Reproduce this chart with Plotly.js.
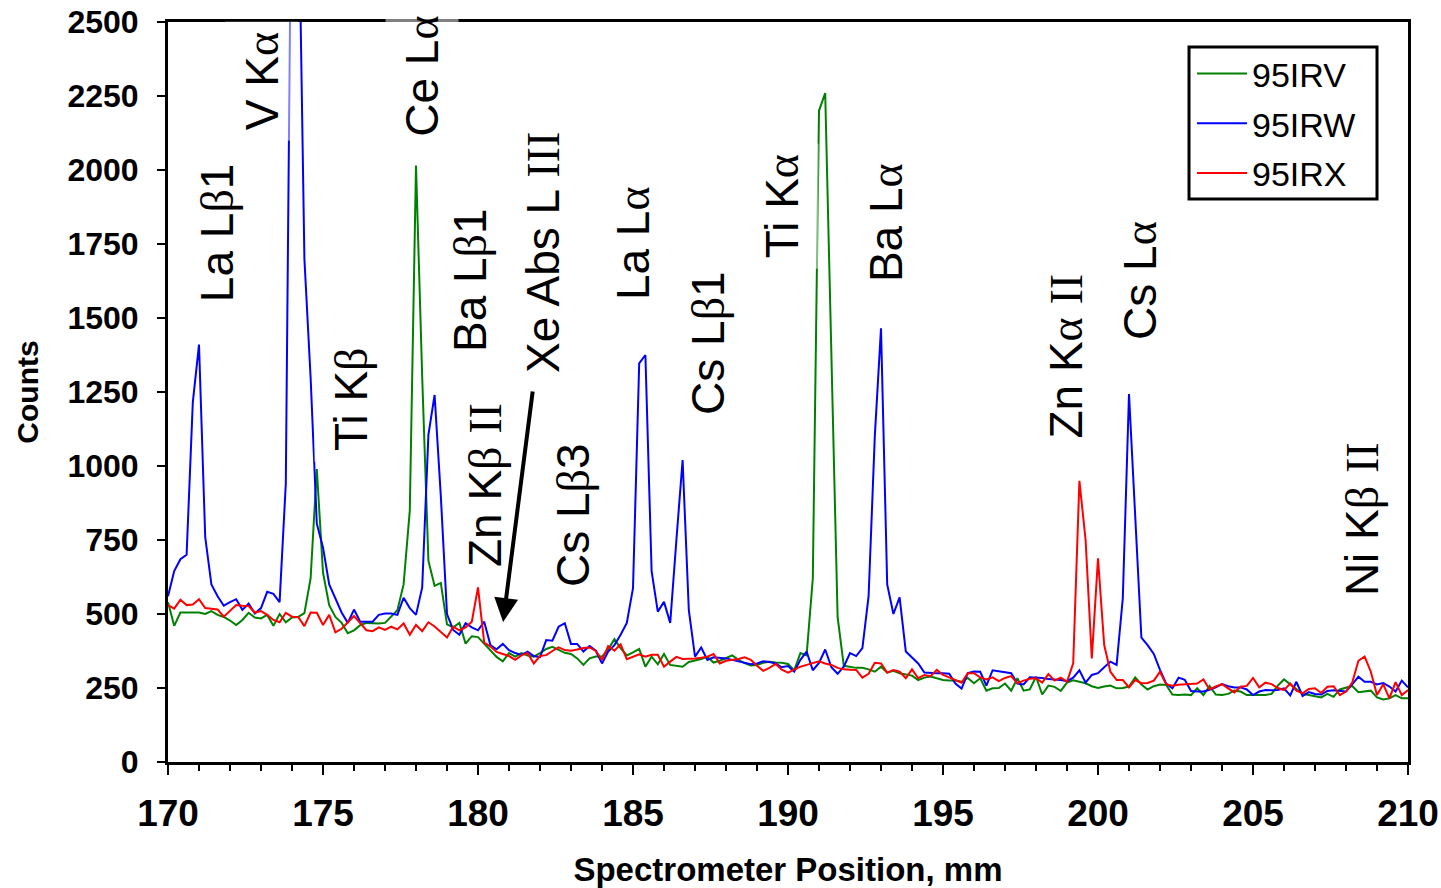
<!DOCTYPE html>
<html>
<head>
<meta charset="utf-8">
<script src="https://cdn.plot.ly/plotly-3.0.1.min.js"></script>
<style>
  html, body { margin: 0; padding: 0; background: #ffffff; }
  #chart { width: 1441px; height: 888px; }
</style>
</head>
<body>
<div id="chart"></div>
<script>
// Spectrometer positions (mm), one reading every 0.2 mm
const positions = [
  170, 170.2, 170.4, 170.6, 170.8, 171, 171.2, 171.4, 171.6, 171.8,
  172, 172.2, 172.4, 172.6, 172.8, 173, 173.2, 173.4, 173.6, 173.8,
  174, 174.2, 174.4, 174.6, 174.8, 175, 175.2, 175.4, 175.6, 175.8,
  176, 176.2, 176.4, 176.6, 176.8, 177, 177.2, 177.4, 177.6, 177.8,
  178, 178.2, 178.4, 178.6, 178.8, 179, 179.2, 179.4, 179.6, 179.8,
  180, 180.2, 180.4, 180.6, 180.8, 181, 181.2, 181.4, 181.6, 181.8,
  182, 182.2, 182.4, 182.6, 182.8, 183, 183.2, 183.4, 183.6, 183.8,
  184, 184.2, 184.4, 184.6, 184.8, 185, 185.2, 185.4, 185.6, 185.8,
  186, 186.2, 186.4, 186.6, 186.8, 187, 187.2, 187.4, 187.6, 187.8,
  188, 188.2, 188.4, 188.6, 188.8, 189, 189.2, 189.4, 189.6, 189.8,
  190, 190.2, 190.4, 190.6, 190.8, 191, 191.2, 191.4, 191.6, 191.8,
  192, 192.2, 192.4, 192.6, 192.8, 193, 193.2, 193.4, 193.6, 193.8,
  194, 194.2, 194.4, 194.6, 194.8, 195, 195.2, 195.4, 195.6, 195.8,
  196, 196.2, 196.4, 196.6, 196.8, 197, 197.2, 197.4, 197.6, 197.8,
  198, 198.2, 198.4, 198.6, 198.8, 199, 199.2, 199.4, 199.6, 199.8,
  200, 200.2, 200.4, 200.6, 200.8, 201, 201.2, 201.4, 201.6, 201.8,
  202, 202.2, 202.4, 202.6, 202.8, 203, 203.2, 203.4, 203.6, 203.8,
  204, 204.2, 204.4, 204.6, 204.8, 205, 205.2, 205.4, 205.6, 205.8,
  206, 206.2, 206.4, 206.6, 206.8, 207, 207.2, 207.4, 207.6, 207.8,
  208, 208.2, 208.4, 208.6, 208.8, 209, 209.2, 209.4, 209.6, 209.8,
  210
];

// Counts per sample
const counts95IRV = [
  540, 460, 505, 505, 505, 505, 500, 510, 497, 490,
  478, 463, 480, 504, 488, 485, 497, 460, 500, 472,
  488, 490, 503, 620, 990, 640, 530, 490, 470, 435,
  445, 462, 470, 468, 468, 470, 490, 513, 600, 850,
  2015, 1300, 680, 595, 605, 465, 455, 470, 400, 425,
  422, 400, 375, 355, 340, 368, 356, 368, 360, 356,
  368, 382, 389, 378, 369, 365, 350, 328, 350, 356,
  356, 380, 415, 385, 360, 370, 382, 322, 356, 330,
  365, 328, 325, 322, 338, 342, 348, 355, 336, 342,
  350, 360, 345, 334, 326, 328, 335, 339, 336, 335,
  331, 310, 368, 360, 620, 2200, 2260, 1400, 490, 325,
  321, 318, 318, 313, 305, 322, 302, 308, 300, 296,
  292, 277, 285, 289, 283, 277, 275, 275, 271, 284,
  266, 283, 241, 249, 250, 265, 241, 283, 241, 245,
  288, 228, 258, 254, 240, 268, 276, 272, 266, 256,
  250, 255, 258, 249, 250, 255, 286, 262, 245, 256,
  262, 260, 228, 226, 228, 226, 249, 226, 257, 228,
  226, 230, 241, 238, 226, 226, 226, 226, 230, 258,
  279, 262, 245, 230, 226, 222, 218, 230, 220, 245,
  252, 257, 236, 238, 241, 218, 211, 215, 226, 215,
  215
];

const counts95IRW = [
  560, 645, 685, 700, 1215, 1410, 760, 600, 560, 528,
  540, 550, 514, 535, 502, 520, 575, 568, 540, 940,
  3240, 3030, 1700, 1300, 805, 725, 600, 550, 505, 470,
  515, 474, 474, 474, 497, 502, 502, 497, 555, 520,
  497, 590, 1105, 1240, 900, 500, 446, 430, 469, 455,
  445, 474, 395, 381, 399, 378, 368, 362, 373, 358,
  354, 412, 410, 457, 469, 399, 399, 373, 392, 376,
  333, 373, 395, 430, 470, 587, 1347, 1375, 645, 508,
  541, 470, 750, 1020, 514, 356, 387, 345, 354, 352,
  350, 345, 340, 335, 330, 333, 340, 338, 333, 320,
  324, 305, 345, 373, 310, 335, 380, 320, 298, 322,
  368, 358, 385, 560, 1100, 1465, 600, 500, 556, 373,
  352, 333, 302, 300, 300, 300, 298, 265, 248, 300,
  306, 305, 258, 310, 306, 304, 300, 265, 262, 286,
  286, 284, 280, 279, 277, 273, 285, 310, 268, 294,
  300, 320, 339, 328, 553, 1243, 830, 420, 395, 365,
  311, 265, 249, 285, 278, 240, 238, 238, 244, 252,
  263, 256, 252, 252, 245, 226, 238, 243, 242, 243,
  249, 225, 271, 223, 236, 230, 228, 240, 242, 240,
  238, 262, 288, 271, 271, 262, 267, 255, 238, 275,
  252
];

const counts95IRX = [
  530, 518, 548, 530, 532, 550, 520, 518, 515, 491,
  512, 530, 528, 527, 505, 510, 497, 480, 472, 504,
  491, 490, 459, 505, 504, 463, 497, 438, 450, 472,
  493, 469, 445, 442, 455, 446, 457, 448, 468, 430,
  463, 442, 472, 458, 440, 421, 457, 445, 455, 474,
  590, 403, 390, 372, 365, 358, 345, 360, 368, 333,
  358, 361, 375, 387, 378, 376, 380, 385, 387, 375,
  345, 392, 376, 398, 347, 356, 364, 356, 362, 362,
  322, 339, 355, 348, 348, 350, 352, 356, 365, 333,
  342, 345, 348, 354, 345, 325, 308, 318, 331, 312,
  302, 312, 322, 328, 334, 340, 333, 328, 318, 313,
  312, 311, 285, 298, 335, 333, 302, 311, 305, 283,
  313, 283, 294, 290, 311, 294, 286, 276, 268, 300,
  300, 286, 279, 286, 273, 284, 290, 266, 275, 281,
  283, 268, 297, 275, 285, 271, 333, 950, 750, 350,
  688, 395, 305, 277, 277, 252, 277, 266, 267, 275,
  305, 262, 258, 261, 263, 263, 265, 279, 245, 255,
  263, 249, 235, 254, 257, 284, 252, 268, 263, 250,
  243, 265, 241, 232, 247, 249, 233, 254, 256, 226,
  238, 268, 342, 356, 305, 226, 263, 215, 270, 226,
  243
];

const seriesNames = ['95IRV', '95IRW', '95IRX'];
const seriesColors = ['#008000', '#0000ff', '#ff0000'];
const seriesCounts = [counts95IRV, counts95IRW, counts95IRX];

const SANS = 'Liberation Sans, Arial, sans-serif';
// Greek letters and Roman numerals are set in a serif face
const g = s => '<span style="font-family:Liberation Serif">' + s + '</span>';

const traces = seriesNames.map((name, k) => ({
  type: 'scatter',
  mode: 'lines',
  name: name,
  legendgroup: name,
  x: positions,
  y: seriesCounts[k],
  line: { color: seriesColors[k], width: 2 }
}));

// Emission line labels: [text, position (mm), counts]
const peakLabels = [
  ['La L' + g('β') + '1', 171.58, 1790],
  ['V K' + g('α'), 173.03, 2300],
  ['Ce L' + g('α'), 178.19, 2318],
  ['Ti K' + g('β'), 175.90, 1226],
  ['Ba L' + g('β') + '1', 179.74, 1628],
  ['Xe Abs L ' + g('III'), 182.10, 1720],
  ['Zn K' + g('β') + ' ' + g('II'), 180.23, 936],
  ['Cs L' + g('β') + '3', 183.06, 834],
  ['La L' + g('α'), 185.0, 1753],
  ['Cs L' + g('β') + '1', 187.42, 1416],
  ['Ti K' + g('α'), 189.81, 1878],
  ['Ba L' + g('α'), 193.16, 1824],
  ['Zn K' + g('α') + ' ' + g('II'), 198.97, 1370],
  ['Cs L' + g('α'), 201.35, 1628],
  ['Ni K' + g('β') + ' ' + g('II'), 208.52, 821]
];

const annotations = peakLabels.map(([text, x, y]) => ({
  text: text,
  x: x, y: y, xref: 'x', yref: 'y',
  xanchor: 'center', yanchor: 'middle',
  textangle: -90,
  showarrow: false,
  bgcolor: 'rgba(255,255,255,0.5)',
  borderpad: 10,
  font: { family: SANS, size: 46, color: '#000000' }
}));

// Arrow pointing at the Xe absorption edge
annotations.push({
  text: '',
  x: 180.81, y: 473, xref: 'x', yref: 'y',
  ax: 181.77, ay: 1257, axref: 'x', ayref: 'y',
  showarrow: true,
  arrowhead: 2,
  arrowsize: 1.2,
  arrowwidth: 4,
  arrowcolor: '#000000',
  standoff: 0
});

const layout = {
  width: 1441,
  height: 888,
  margin: { l: 168, r: 33, t: 22, b: 126 },
  paper_bgcolor: '#ffffff',
  plot_bgcolor: '#ffffff',
  font: { family: SANS, color: '#000000' },
  showlegend: true,
  legend: {
    x: 0.8258, y: 0.969, xanchor: 'left', yanchor: 'top',
    bgcolor: 'rgba(0,0,0,0)',
    borderwidth: 0,
    itemwidth: 50,
    tracegroupgap: 2.5,
    font: { family: SANS, size: 34, color: '#000000' }
  },
  // frame around the legend
  shapes: [{
    type: 'rect', xref: 'paper', yref: 'paper',
    x0: 0.8234, x1: 0.975, y0: 0.7608, y1: 0.9662,
    line: { color: '#000000', width: 3 },
    fillcolor: 'rgba(0,0,0,0)',
    layer: 'above'
  }],
  xaxis: {
    range: [170, 210],
    tick0: 170,
    dtick: 5,
    ticks: 'outside',
    ticklen: 10,
    tickwidth: 2,
    tickcolor: '#000000',
    ticklabelstandoff: 7,
    minor: { dtick: 1, ticks: 'outside', ticklen: 6, tickwidth: 1.5, tickcolor: '#000000', showgrid: false },
    showline: true,
    linewidth: 3,
    linecolor: '#000000',
    mirror: true,
    showgrid: false,
    zeroline: false,
    automargin: false,
    tickfont: { family: SANS, size: 37, weight: 'bold', color: '#000000' },
    title: {
      text: 'Spectrometer Position, mm',
      standoff: 29,
      font: { family: SANS, size: 33, weight: 'bold', color: '#000000' }
    }
  },
  yaxis: {
    range: [0, 2500],
    tick0: 0,
    dtick: 250,
    ticks: 'outside',
    ticklen: 8,
    tickwidth: 2,
    tickcolor: '#000000',
    ticklabelstandoff: 12,
    showline: true,
    linewidth: 3,
    linecolor: '#000000',
    mirror: true,
    showgrid: false,
    zeroline: false,
    automargin: false,
    tickfont: { family: SANS, size: 32, weight: 'bold', color: '#000000' },
    title: {
      text: 'Counts',
      standoff: 20,
      font: { family: SANS, size: 30, weight: 'bold', color: '#000000' }
    }
  },
  annotations: annotations
};

Plotly.newPlot('chart', traces, layout, { displayModeBar: false, staticPlot: true });
</script>
</body>
</html>
